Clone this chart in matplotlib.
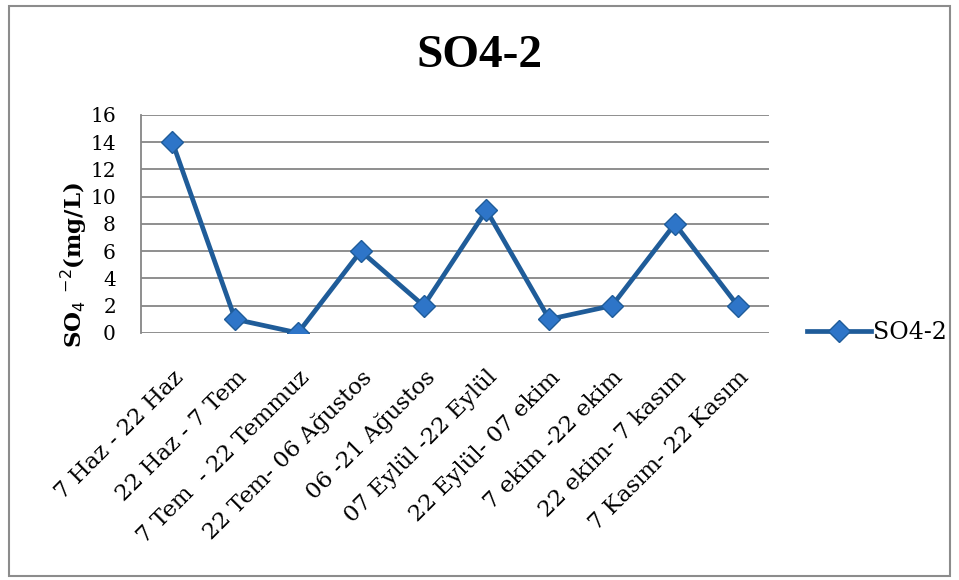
import matplotlib
matplotlib.use("Agg")
import matplotlib.pyplot as plt
from matplotlib.patches import Rectangle

periods = [
    "7 Haz - 22 Haz",
    "22 Haz - 7 Tem",
    "7 Tem  - 22 Temmuz",
    "22 Tem- 06 Ağustos",
    "06 -21 Ağustos",
    "07 Eylül -22 Eylül",
    "22 Eylül- 07 ekim",
    "7 ekim -22 ekim",
    "22 ekim- 7 kasım",
    "7 Kasım- 22 Kasım",
]
so4_values = [14, 1, 0, 6, 2, 9, 1, 2, 8, 2]
y_ticks = [0, 2, 4, 6, 8, 10, 12, 14, 16]

plt.rcParams["font.family"] = ["DejaVu Serif"]

fig = plt.figure(figsize=(9.59, 5.80), dpi=100)
fig.patches.append(Rectangle((0.009, 0.007), 0.982, 0.982, transform=fig.transFigure,
                             fill=False, edgecolor="#8c8c8c", linewidth=1.5))

ax = fig.add_axes([0.147, 0.426, 0.655, 0.376])
x = list(range(len(periods)))
ax.plot(x, so4_values, color="#1f5c99", linewidth=3.4, marker="D", markersize=11.5,
        markerfacecolor="#2e75c8", markeredgecolor="#1f5c99", markeredgewidth=1.0,
        label="SO4-2", zorder=3)

ax.set_xlim(-0.5, len(periods) - 0.5)
ax.set_ylim(0, 16)
ax.set_yticks(y_ticks)
ax.set_yticklabels([str(v) for v in y_ticks], fontsize=14.5)
ax.grid(axis="y", color="#868686", linewidth=1.3)
ax.set_axisbelow(True)
for side in ["top", "right", "bottom"]:
    ax.spines[side].set_visible(False)
ax.spines["left"].set_color("#868686")
ax.spines["left"].set_linewidth(1.3)
ax.tick_params(axis="y", length=0, pad=18)
ax.tick_params(axis="x", length=0, pad=24)

ax.set_xticks(x)
ax.set_xticklabels(periods, rotation=45, ha="right", rotation_mode="anchor", fontsize=16.5)
for lbl in ax.get_xticklabels():
    lbl.set_x(lbl.get_position()[0])

ax.set_ylabel(r"SO$_4$ $^{-2}$(mg/L)", fontsize=16.5, fontweight="bold", labelpad=2)
ax.yaxis.set_label_coords(-0.083, 0.31)

fig.text(0.5, 0.903, "SO4-2", ha="center", va="center", fontsize=34, fontweight="bold",
         family="Liberation Serif")

ax.legend(loc="center left", bbox_to_anchor=(1.045, 0.0), frameon=False, fontsize=17,
          handlelength=2.7, handletextpad=0.1, borderaxespad=0.0)

fig.savefig("out.png", dpi=100)
